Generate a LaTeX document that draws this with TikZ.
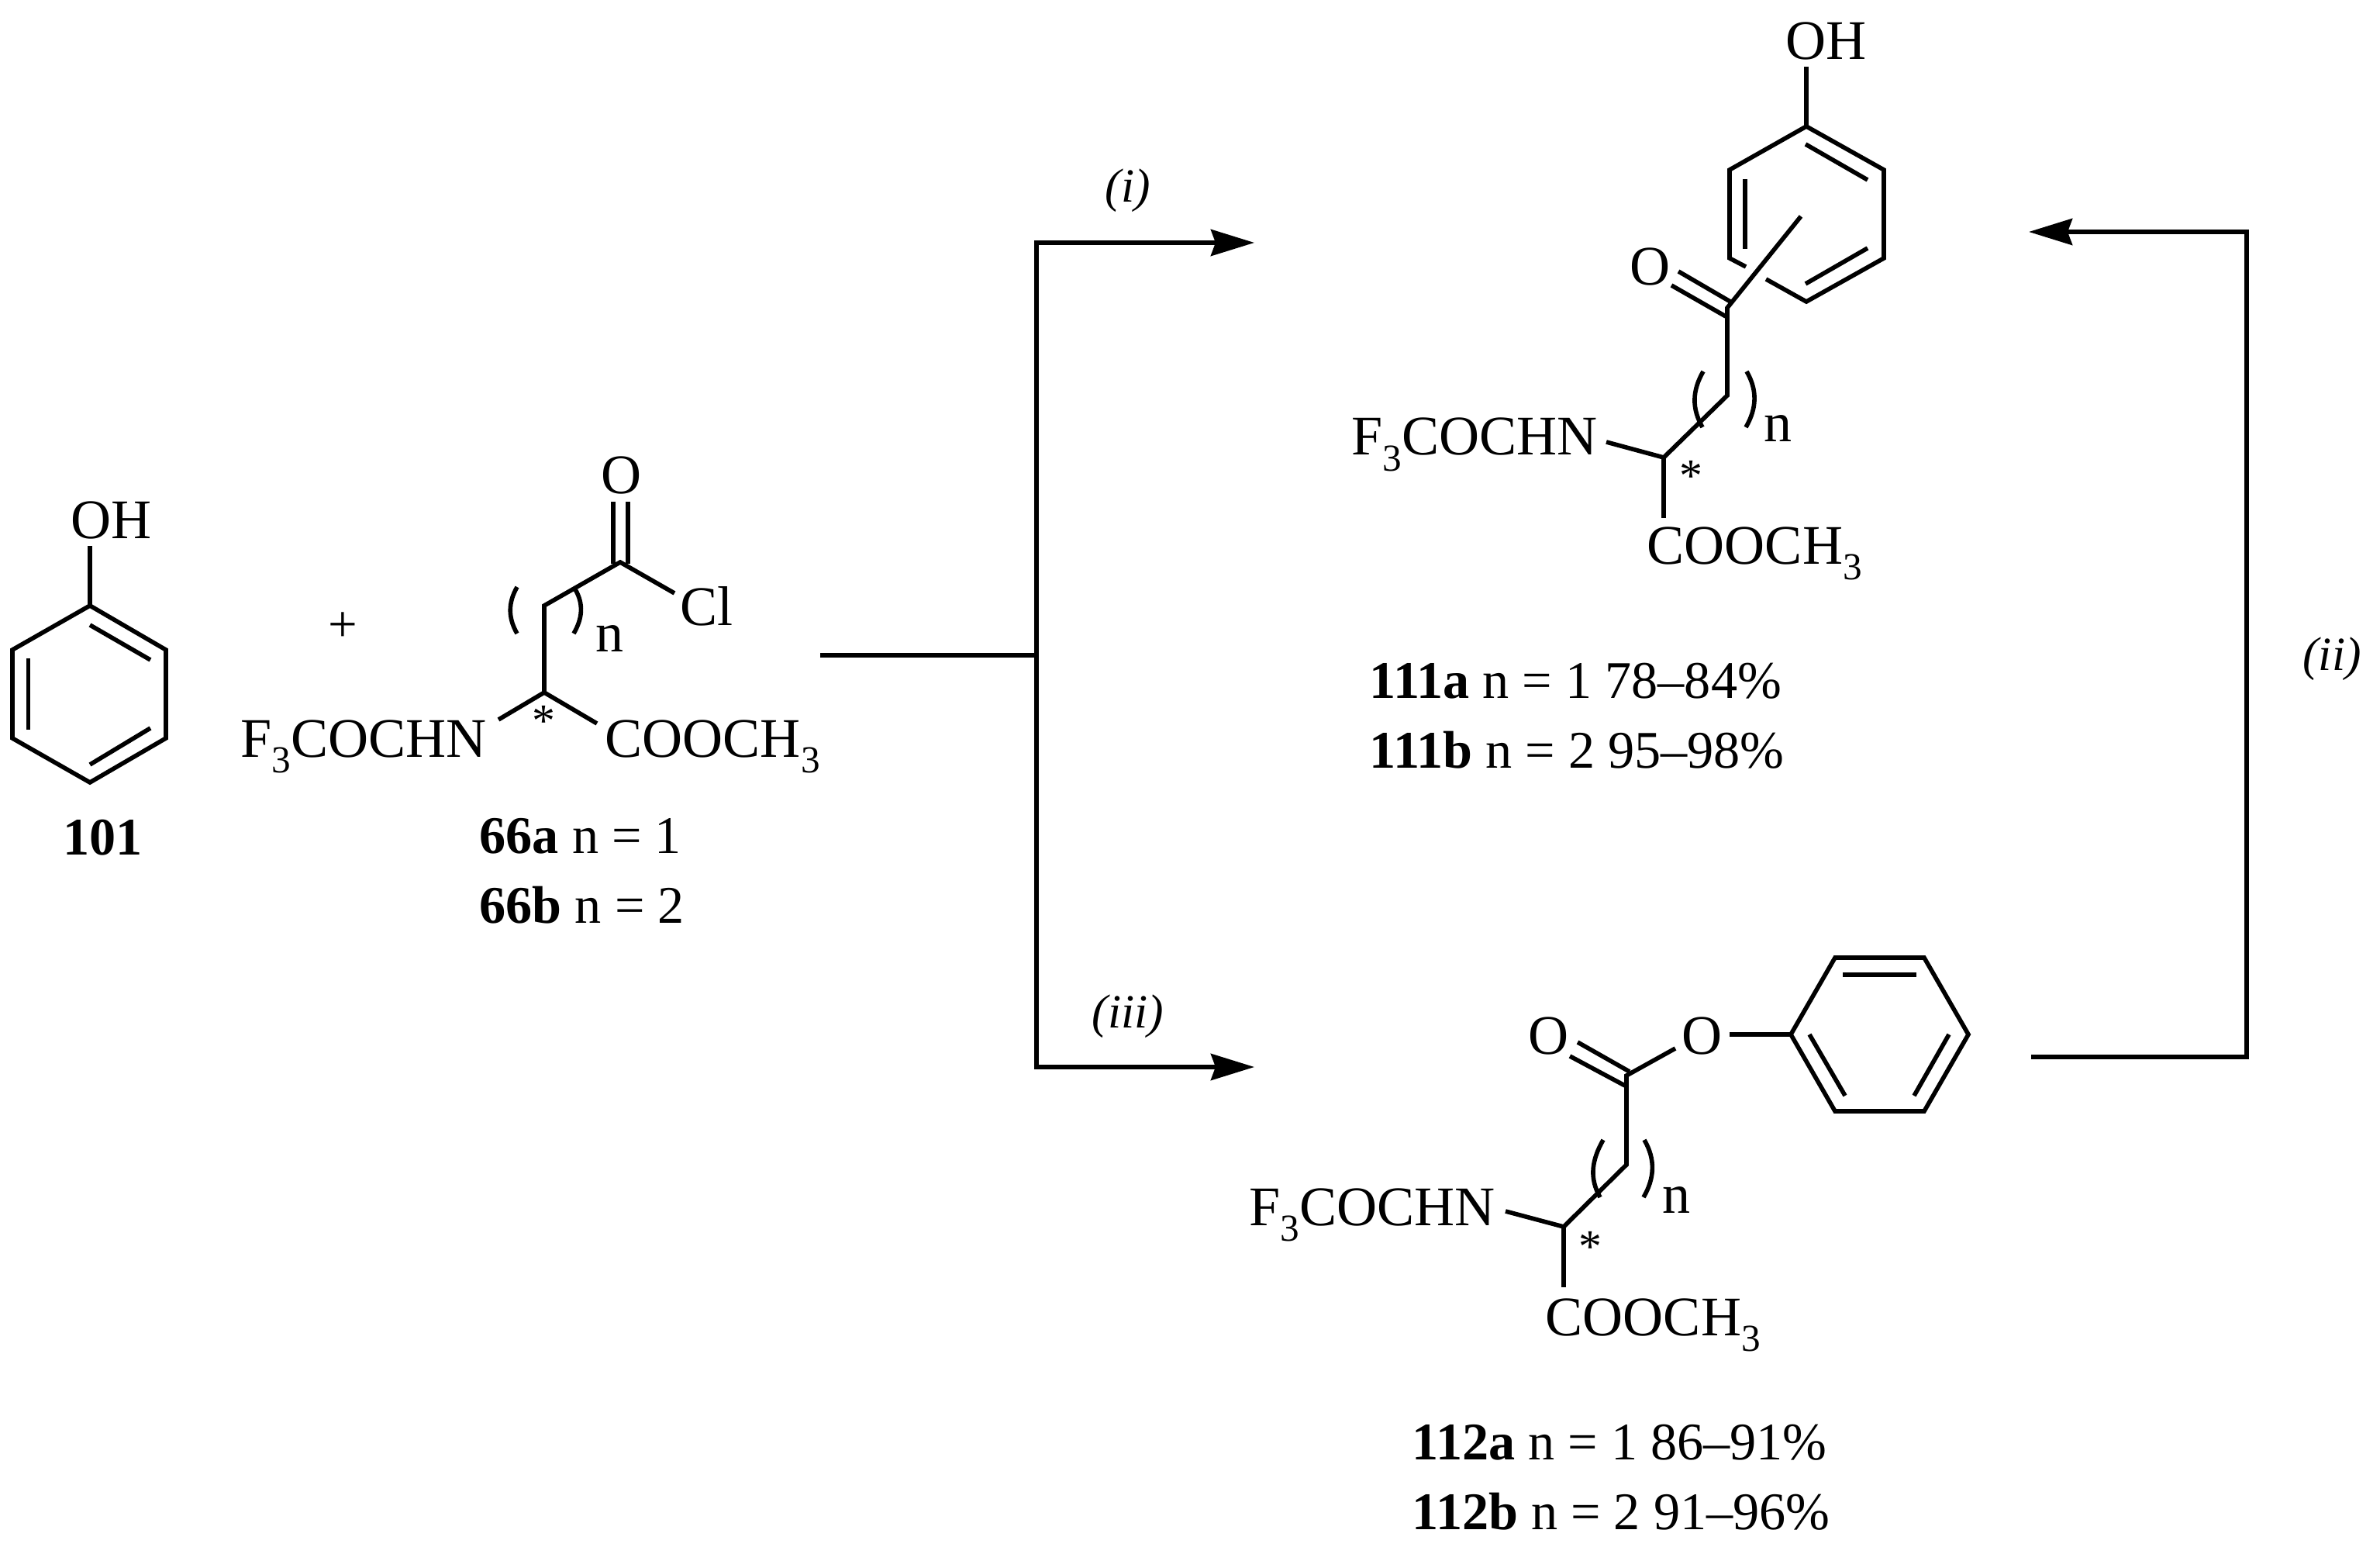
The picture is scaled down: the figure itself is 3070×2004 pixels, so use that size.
\documentclass[tikz,border=0pt]{standalone}
\usepackage{fontspec}
\setmainfont{Liberation Serif}
\usetikzlibrary{arrows.meta}
\newcommand{\sbt}{\raisebox{-5.8pt}{\fontsize{14}{14}\selectfont 3}}
\tikzset{
  bond/.style={line width=1.6pt, line join=miter},
  reaction/.style={line width=1.6pt, line join=miter},
  tipped/.style={reaction, -{Stealth[length=0.56cm, width=0.34cm, inset=0.06cm]}},
  atom/.style={anchor=base west, inner sep=0pt, font=\fontsize{20.5}{24}\selectfont, yshift=-0.03cm},
  caption/.style={anchor=base west, inner sep=0pt, font=\fontsize{19.4}{23}\selectfont},
  step label/.style={inner sep=0pt, font=\fontsize{17.5}{21}\selectfont\itshape, yshift=-0.03cm},
  star/.style={anchor=base, inner sep=0pt, font=\fontsize{17}{20}\selectfont},
}
\begin{document}
\begin{tikzpicture}[x=0.01cm, y=-0.01cm]
\useasboundingbox (0,0) rectangle (3070,2004);
%
\node[atom] (phOH) at (91,692) {OH};
\coordinate (pa0) at (116,704); \coordinate (pa1) at (116,781);
\coordinate (pa2) at (214,838); \coordinate (pa3) at (214,952);
\coordinate (pa4) at (116,1009); \coordinate (pa5) at (16,952);
\coordinate (pa6) at (16,838);
\draw[bond] (pa0) -- (pa1);
\draw[bond] (pa1) -- (pa2) -- (pa3) -- (pa4) -- (pa5) -- (pa6) -- cycle; % cycle
\draw[bond] (116,806) -- (194,851); \draw[bond] (36.5,849) -- (36.5,941);
\draw[bond] (194,939) -- (116,986);
\node[caption] (lab101) at (81,1102) {\textbf{101}};
\node[inner sep=0pt, font=\fontsize{19}{20}\selectfont] (plus) at (442,809) {+};
%
\node[atom] (acO) at (775,634) {O};
\node[atom] (acCl) at (877,803) {Cl};
\node[atom] (acN) at (310,973) {F\sbt COCHN};
\node[atom] (acE) at (780,973) {COOCH\sbt};
\node[atom] (acn) at (768,838) {n};
\node[star] (acS) at (701,949) {*};
\coordinate (b1) at (800,725); \coordinate (b2) at (702,781);
\coordinate (b3) at (702,893); \coordinate (b4) at (643,928);
\coordinate (b5) at (770,933); \coordinate (b6) at (870,765);
\draw[bond] (b6) -- (b1) -- (b2) -- (b3) -- (b4);
\draw[bond] (b3) -- (b5);
\draw[bond] (791,647) -- (791,727); \draw[bond] (810,647) -- (810,727); % C=O
\draw[bond] (667,757) to[out=-120, in=120] (667,817); % parenthese
\draw[bond] (742,760) to[out=-60, in=60] (740,817);
\node[caption] (lab66a) at (618,1100) {\textbf{66a} n = 1};
\node[caption] (lab66b) at (618,1190) {\textbf{66b} n = 2};
%
\node[atom] (hkOH) at (2303,74) {OH};
\node[atom] (hkO) at (2102,365) {O};
\node[atom] (hkN) at (1743,584) {F\sbt COCHN};
\node[atom] (hkE) at (2124,724) {COOCH\sbt};
\node[atom] (hkn) at (2275,567) {n};
\node[star] (hkS) at (2181,634) {*};
\coordinate (c0) at (2330,86); \coordinate (c1) at (2330,163);
\coordinate (c2) at (2430,219); \coordinate (c3) at (2430,333);
\coordinate (c4) at (2330,389); \coordinate (c5) at (2278,360);
\coordinate (c6) at (2252,344); \coordinate (c7) at (2231,333);
\coordinate (c8) at (2231,219);
\draw[bond] (c0) -- (c1);
\draw[bond] (c5) -- (c4) -- (c3) -- (c2) -- (c1) -- (c8) -- (c7) -- (c6); % cycle
\draw[bond] (2329,186) -- (2409,232); \draw[bond] (2409,320) -- (2329,366);
\draw[bond] (2251,231) -- (2251,321);
\coordinate (d1) at (2323,279); \coordinate (d2) at (2228,397);
\coordinate (d3) at (2228,510); \coordinate (d4) at (2146,590);
\coordinate (d5) at (2072,570); \coordinate (d6) at (2146,668);
\draw[bond] (d1) -- (d2) -- (d3) -- (d4) -- (d5);
\draw[bond] (d4) -- (d6);
\draw[bond] (2165,350) -- (2232,389); \draw[bond] (2156,368) -- (2226,408); % C=O
\draw[bond] (2197,479) to[out=-120, in=120] (2196,551);
\draw[bond] (2253,479) to[out=-60, in=60] (2252,551);
\node[caption] (lab111a) at (1766,900) {\textbf{111a} n = 1 78--84\%};
\node[caption] (lab111b) at (1766,990) {\textbf{111b} n = 2 95--98\%};
%
\node[atom] (esOa) at (1971,1356) {O};
\node[atom] (esOb) at (2169,1356) {O};
\node[atom] (esN) at (1611,1577) {F\sbt COCHN};
\node[atom] (esE) at (1993,1719) {COOCH\sbt};
\node[atom] (esn) at (2144,1561) {n};
\node[star] (esS) at (2051,1627) {*};
\coordinate (e0) at (2231,1334); \coordinate (e1) at (2310,1334);
\coordinate (e2) at (2367,1235); \coordinate (e3) at (2482,1235);
\coordinate (e4) at (2539,1334); \coordinate (e5) at (2482,1433);
\coordinate (e6) at (2367,1433);
\draw[bond] (e0) -- (e1);
\draw[bond] (e1) -- (e2) -- (e3) -- (e4) -- (e5) -- (e6) -- cycle; % cycle
\draw[bond] (2377,1257) -- (2472,1257); \draw[bond] (2334,1334) -- (2380,1413);
\draw[bond] (2514,1334) -- (2469,1413);
\coordinate (f0) at (2161,1352); \coordinate (f1) at (2098,1387);
\coordinate (f2) at (2098,1502); \coordinate (f3) at (2017,1582);
\coordinate (f4) at (1942,1562); \coordinate (f5) at (2017,1660);
\draw[bond] (f0) -- (f1) -- (f2) -- (f3) -- (f4);
\draw[bond] (f3) -- (f5);
\draw[bond] (2035,1344) -- (2102,1382); \draw[bond] (2025,1362) -- (2096,1400); % C=O
\draw[bond] (2068,1470) to[out=-120, in=120] (2064,1544);
\draw[bond] (2121,1470) to[out=-60, in=60] (2120,1544);
\node[caption] (lab112a) at (1821,1882) {\textbf{112a} n = 1 86--91\%};
\node[caption] (lab112b) at (1821,1972) {\textbf{112b} n = 2 91--96\%};
%
\coordinate (start) at (1058,845); \coordinate (fork) at (1337,845);
\coordinate (forkup) at (1337,313); \coordinate (forkdown) at (1337,1376);
\coordinate (endup) at (1618,313); \coordinate (enddown) at (1618,1376);
\coordinate (from) at (2620,1363); \coordinate (corner) at (2898,1363);
\coordinate (cornertop) at (2898,299); \coordinate (endback) at (2617,299);
\draw[reaction] (start) -- (fork);
\draw[tipped] (fork) -- (forkup) -- (endup); % (i)
\draw[tipped] (fork) -- (forkdown) -- (enddown); % (iii)
\draw[tipped] (from) -- (corner) -- (cornertop) -- (endback); % (ii)
\node[step label] (stepi) at (1455,243) {(i)};
\node[step label] (stepiii) at (1455,1308) {(iii)};
\node[step label] (stepii) at (3008,847) {(ii)};
\end{tikzpicture}
\end{document}
